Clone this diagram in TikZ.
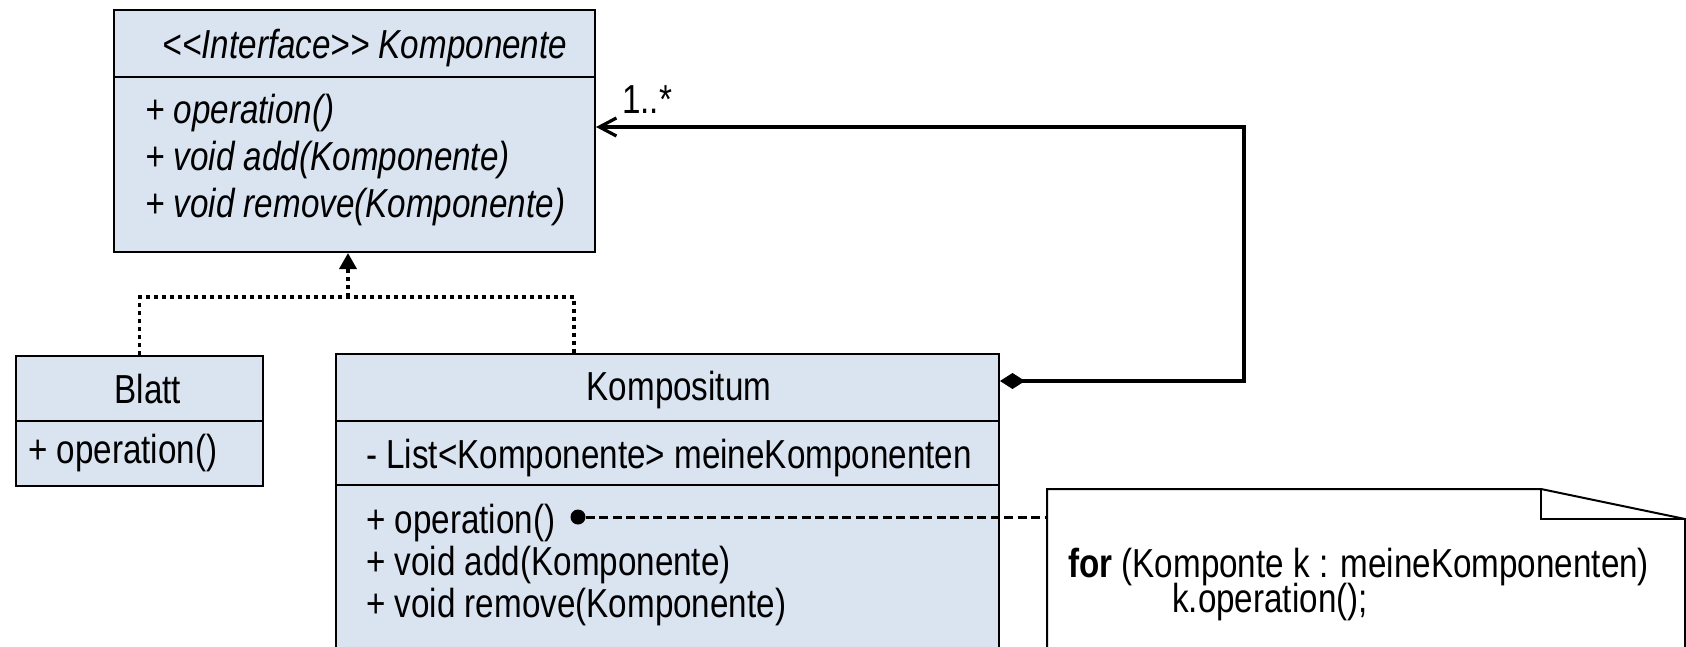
\documentclass[tikz,border=0pt]{standalone}
\usepackage{fontspec}
\setmainfont{Liberation Sans}[FakeStretch=0.82]
\usetikzlibrary{arrows.meta}
\definecolor{boxfill}{RGB}{218,227,240}
\tikzset{
  umlbox/.style={draw=black, line width=2pt, fill=boxfill, rectangle, inner sep=0pt, anchor=north west},
  divider/.style={draw=black, line width=2pt},
  txt/.style={font=\fontsize{40.5}{44}\selectfont, inner sep=0pt, anchor=base west},
  ctxt/.style={font=\fontsize{40.5}{44}\selectfont, inner sep=0pt, anchor=base},
  realize/.style={line width=3.5pt, dash pattern=on 4pt off 4pt},
  compline/.style={line width=3.2pt},
  noteline/.style={line width=3pt, dash pattern=on 9pt off 4.5pt},
  noteshape/.style={draw=black, line width=2pt, fill=white}
}
\begin{document}
\begin{tikzpicture}[x=1pt,y=-1pt]
\useasboundingbox (0,0) rectangle (1686,646);
\clip (0,0) rectangle (1686,646);
\fill[white] (0,0) rectangle (1686,646);

% Komponente
\node[umlbox, minimum width=481pt, minimum height=242pt] (komp) at (113,9) {};
\draw[divider] (113,77) -- (594,77);
\node[ctxt] (kompTitle) at (365,58) {\itshape <{}<Interface>{}> Komponente};
\node[txt] (kop1) at (145,123) {\itshape + operation()};
\node[txt] (kop2) at (145,170) {\itshape + void add(Komponente)};
\node[txt] (kop3) at (145,217) {\itshape + void remove(Komponente)};

% Blatt
\node[umlbox, minimum width=247pt, minimum height=130pt] (blatt) at (15,355) {};
\draw[divider] (15,420.5) -- (262,420.5);
\node[ctxt] (blattTitle) at (148,403) {Blatt};
\node[txt] (bop1) at (28,463) {+ operation()};

% Kompositum
\node[umlbox, minimum width=663pt, minimum height=347pt] (kompo) at (335,353) {};
\draw[divider] (335,420.5) -- (998,420.5);
\draw[divider] (335,485) -- (998,485);
\node[ctxt] (kompoTitle) at (679,400) {Kompositum};
\node[txt] (kattr) at (366,468) {- List<Komponente> meineKomponenten};
\node[txt] (kpop1) at (366,533) {+ operation()};
\node[txt] (kpop2) at (366,575) {+ void add(Komponente)};
\node[txt] (kpop3) at (366,617) {+ void remove(Komponente)};

% Note
\coordinate (noteNW) at (1047,489);
\draw[noteshape] (1047,700) -- (noteNW) -- (1541,489) -- (1685,519) -- (1685,700);
\draw[line width=2pt] (1541,489) -- (1541,519) -- (1685,519);
\node[txt] (note1) at (1068,577) {\textbf{for} (Komponte k : meineKomponenten)};
\node[txt] (note2) at (1172,612) {k.operation();};

% dashed link from operation() to note
\node[circle, fill=black, inner sep=0pt, minimum size=15pt] (dot) at (578,517) {};
\draw[noteline] (dot.east) -- (noteNW |- dot);

% realization (dotted)
\coordinate (j) at (348,297);
\coordinate (kt) at (574,353);
\draw[realize] (blatt.north) |- (j) -| (kt);
\draw[realize, -{Triangle[length=16pt,width=17pt]}] (j) -- (komp.south -| j);

% composition
\coordinate (c1) at (1244,381);
\draw[compline, {Diamond[length=25pt,width=16pt]}-{Straight Barb[length=17pt,width=18pt,line width=3.2pt]}]
  (kompo.east |- c1) -- (c1) |- (komp.east |- 0,127);
\node[txt] (mult) at (622,113) {1..*};
\end{tikzpicture}
\end{document}
